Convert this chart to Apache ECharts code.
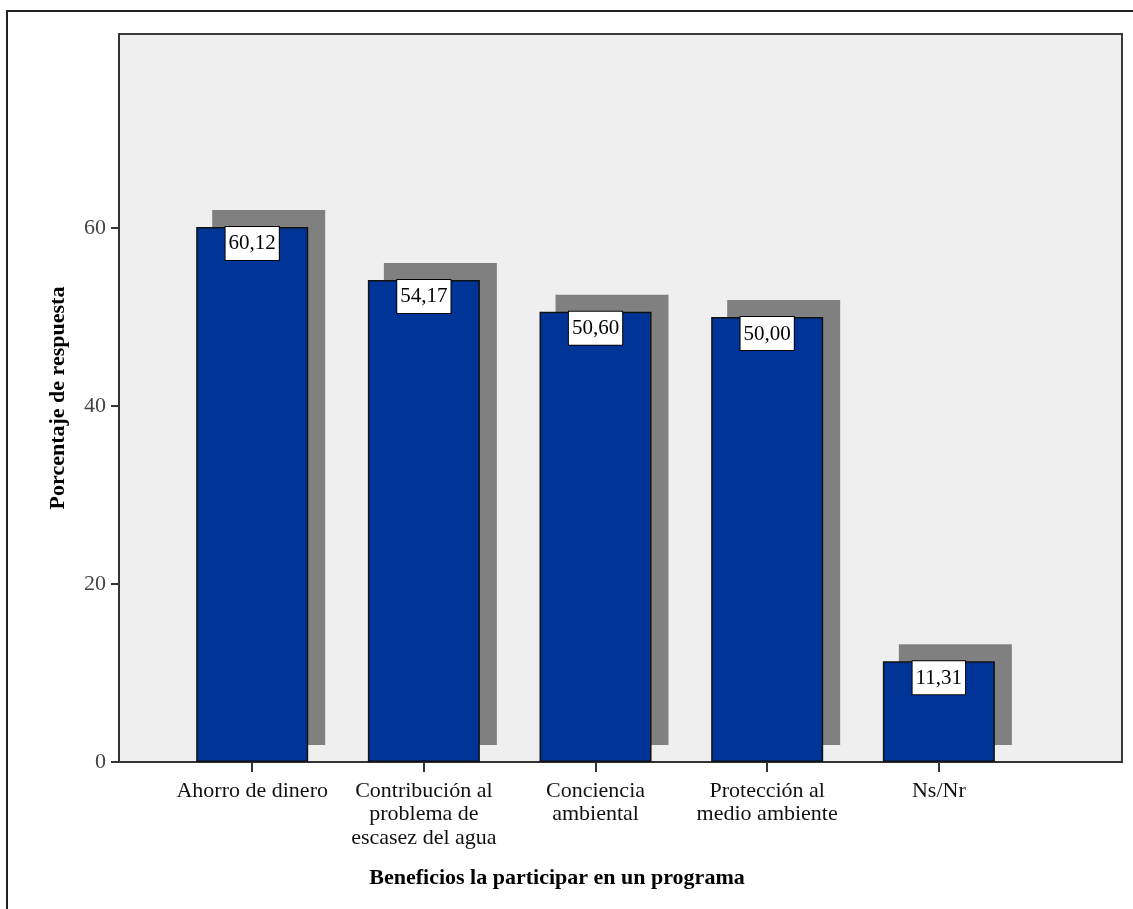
<!DOCTYPE html>
<html>
<head>
<meta charset="utf-8">
<script src="https://cdn.jsdelivr.net/npm/echarts@6/dist/echarts.min.js"></script>
<style>
html,body{margin:0;padding:0;background:#fff;}
#chart{width:1133px;height:909px;}
</style>
</head>
<body>
<div id="chart"></div>
<script>
const categories = ['Ahorro de dinero', 'Contribución al\nproblema de\nescasez del agua', 'Conciencia\nambiental', 'Protección al\nmedio ambiente', 'Ns/Nr'];
const values = [60.12, 54.17, 50.60, 50.00, 11.31];
const yTicks = [0, 20, 40, 60];
const xTitle = 'Beneficios la participar en un programa';
const yTitle = 'Porcentaje de respuesta';

const FONT = "'Liberation Serif', 'DejaVu Serif', serif";
const idx = categories.map((c, i) => i);
const barData = values.map((v, i) => [i, v]);

const chart = echarts.init(document.getElementById('chart'));
chart.setOption({
  animation: false,
  backgroundColor: '#fff',
  grid: {
    left: 119, top: 34, right: 11, bottom: 147,
    show: true, backgroundColor: '#EFEFEF', borderColor: '#3a3a3a', borderWidth: 2
  },
  xAxis: {
    type: 'value', min: -0.776, max: 5.067,
    splitLine: { show: false },
    axisLine: { show: true, onZero: false, lineStyle: { color: '#333', width: 2 } },
    axisTick: { show: true, length: 10, customValues: idx, lineStyle: { color: '#333', width: 2 } },
    axisLabel: {
      customValues: idx, margin: 17,
      formatter: v => categories[Math.round(v)],
      fontFamily: FONT, fontSize: 22, color: '#111', lineHeight: 23.5, align: 'center', verticalAlign: 'top'
    }
  },
  yAxis: {
    type: 'value', min: 0, max: 81.8,
    splitLine: { show: false },
    name: yTitle, nameLocation: 'middle', nameGap: 50,
    nameTextStyle: { fontFamily: FONT, fontSize: 22, fontWeight: 'bold', color: '#000' },
    axisLine: { show: true, onZero: false, lineStyle: { color: '#333', width: 2 } },
    axisTick: { show: true, length: 8, customValues: yTicks, lineStyle: { color: '#333', width: 2 } },
    axisLabel: { customValues: yTicks, margin: 13, fontFamily: FONT, fontSize: 22, color: '#444' }
  },
  graphic: [
    { type: 'rect', z: -10, shape: { x: 7, y: 11, width: 1140, height: 920 },
      style: { fill: 'none', stroke: '#222', lineWidth: 2 } },
    { type: 'text', x: 557, y: 878,
      style: { text: xTitle, textAlign: 'center', textVerticalAlign: 'middle',
               font: "bold 22px 'Liberation Serif', serif", fill: '#000' } }
  ],
  series: [
    {
      type: 'custom', z: 1,
      data: barData,
      renderItem: function (params, api) {
        const top = api.coord([api.value(0), api.value(1)]);
        const base = api.coord([api.value(0), 0]);
        return {
          type: 'rect',
          shape: { x: top[0] - 56 + 16, y: top[1] - 17, width: 113, height: base[1] - top[1] },
          style: { fill: '#808080' }
        };
      }
    },
    {
      type: 'bar', z: 2,
      data: barData,
      barWidth: 112,
      itemStyle: { color: '#003497', borderColor: '#111', borderWidth: 1.5 },
      label: {
        show: true, position: 'insideTop', distance: 0,
        formatter: p => p.value[1].toFixed(2).replace('.', ','),
        fontFamily: FONT, fontSize: 21, color: '#000', lineHeight: 24,
        backgroundColor: '#fff', borderColor: '#000', borderWidth: 1,
        padding: [5, 3, 4, 3]
      }
    }
  ]
});
</script>
</body>
</html>
